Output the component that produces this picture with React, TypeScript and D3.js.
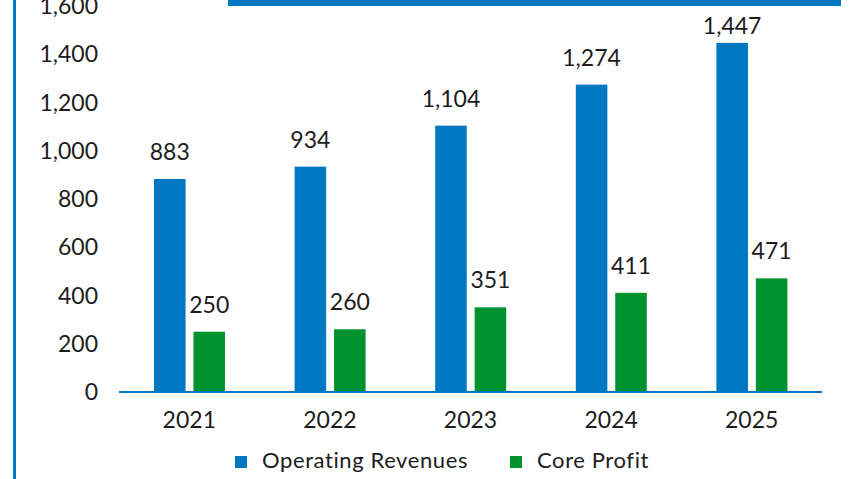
import React, { useEffect, useRef } from 'react';
import * as d3 from 'd3';

// chart values
const years = ['2021', '2022', '2023', '2024', '2025'];
const revenues = [883, 934, 1104, 1274, 1447];
const coreProfit = [250, 260, 351, 411, 471];
const yTicks = [0, 200, 400, 600, 800, 1000, 1200, 1400, 1600];
const seriesNames = ['Operating Revenues', 'Core Profit'];
const seriesColors = ['#0078c1', '#00922f'];

const W = 852;
const H = 479;
const FONT = 'Lato, "Liberation Sans", sans-serif';
const TEXT = '#1c1c1c';

const App = () => {
  const svgRef = useRef<SVGSVGElement>(null);

  useEffect(() => {
    const svg = d3.select(svgRef.current);
    svg.selectAll('*').remove();

    // frame pieces: left rule and the (cut off) title banner
    svg.append('rect').attr('x', 13).attr('y', 0).attr('width', 3).attr('height', H).attr('fill', '#0078c1');
    svg.append('rect').attr('x', 228).attr('y', 0).attr('width', 613).attr('height', 6).attr('fill', '#0078c1');

    const x = d3.scaleBand().domain(years).range([119, 822]);
    const inner = d3.scaleBand().domain(seriesNames).range([35, 106]).paddingInner(0.2);
    const y = d3.scaleLinear().domain([0, 1600]).range([392, 6]);

    // y tick labels (no axis line)
    svg.append('g')
      .selectAll('text')
      .data(yTicks)
      .join('text')
      .attr('x', 98)
      .attr('y', d => y(d))
      .attr('dy', '0.35em')
      .attr('text-anchor', 'end')
      .attr('font-family', FONT)
      .attr('font-size', 23)
      .attr('fill', TEXT)
      .text(d => d3.format(',')(d));

    const rows = years.map((yr, i) => ({ yr, values: [revenues[i], coreProfit[i]] }));

    const groups = svg.append('g')
      .selectAll('g')
      .data(rows)
      .join('g')
      .attr('transform', d => `translate(${x(d.yr)},0)`);

    const cells = groups.selectAll('g')
      .data(d => d.values.map((v, k) => ({ v, k })))
      .join('g');

    cells.append('rect')
      .attr('x', d => inner(seriesNames[d.k])!)
      .attr('y', d => y(d.v))
      .attr('width', inner.bandwidth())
      .attr('height', d => y(0) - y(d.v))
      .attr('fill', d => seriesColors[d.k]);

    // value labels sit above the bars, kept below the plot top
    cells.append('text')
      .attr('x', d => inner(seriesNames[d.k])! + inner.bandwidth() / 2)
      .attr('y', d => Math.max(y(d.v) - 19, 34))
      .attr('text-anchor', 'middle')
      .attr('font-family', FONT)
      .attr('font-size', 23)
      .attr('fill', TEXT)
      .text(d => d3.format(',')(d.v));

    // x axis line + year labels
    svg.append('line')
      .attr('x1', 119).attr('x2', 822)
      .attr('y1', y(0)).attr('y2', y(0))
      .attr('stroke', '#0078c1').attr('stroke-width', 2);

    svg.append('g')
      .selectAll('text')
      .data(years)
      .join('text')
      .attr('x', d => x(d)! + x.bandwidth() / 2)
      .attr('y', 428)
      .attr('text-anchor', 'middle')
      .attr('font-family', FONT)
      .attr('font-size', 23)
      .attr('fill', TEXT)
      .text(d => d);

    // legend
    const legendX = [235, 510];
    const legend = svg.append('g')
      .selectAll('g')
      .data(seriesNames)
      .join('g')
      .attr('transform', (d, i) => `translate(${legendX[i]},456)`);
    legend.append('rect').attr('width', 12).attr('height', 12).attr('fill', (d, i) => seriesColors[i]);
    legend.append('text')
      .attr('x', 27)
      .attr('y', 12)
      .attr('font-family', FONT)
      .attr('font-size', 22)
      .attr('letter-spacing', 0.6)
      .attr('fill', TEXT)
      .text(d => d);
  }, []);

  return (
    <svg
      ref={svgRef}
      width={W}
      height={H}
      style={{ position: 'absolute', left: 0, top: 0, background: '#fff' }}
    />
  );
};

export default App;
